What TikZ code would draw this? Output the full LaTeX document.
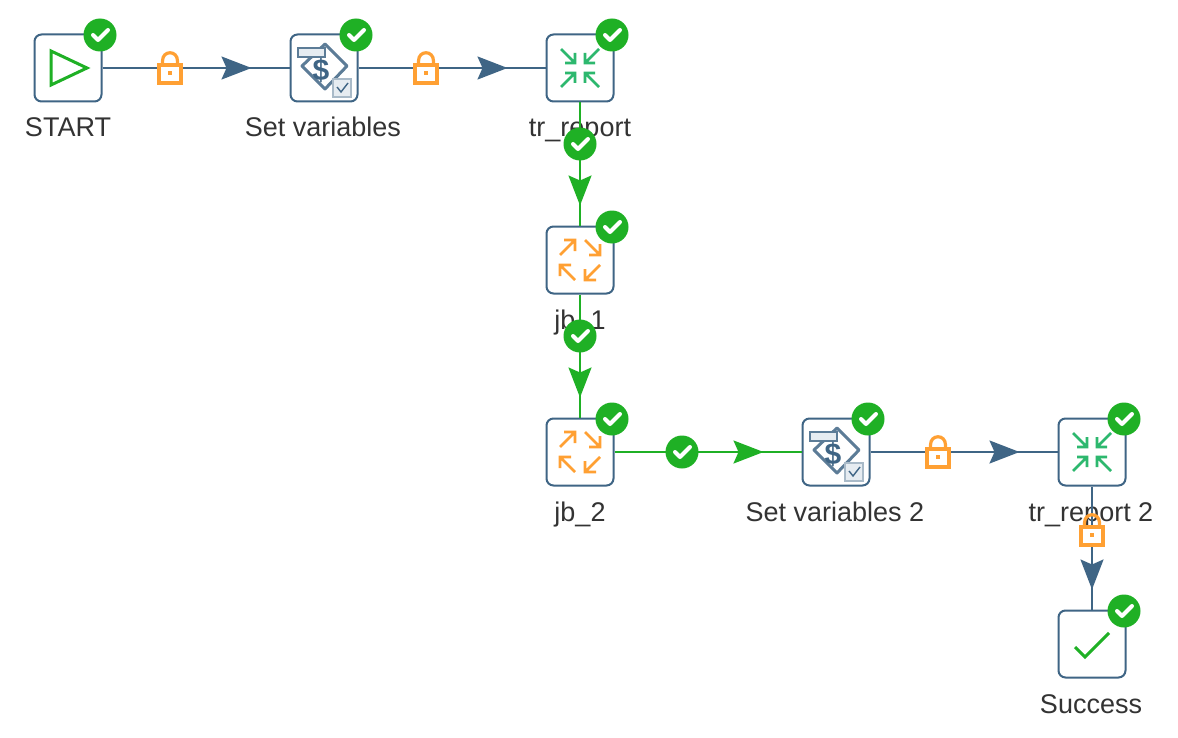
\documentclass[tikz,border=0pt]{standalone}
\usepackage{fontspec}
\setmainfont{Liberation Sans}
\usetikzlibrary{arrows.meta,decorations.markings}
\definecolor{steelline}{HTML}{3F6585}
\definecolor{okgreen}{HTML}{1FB025}
\definecolor{iconteal}{HTML}{2DB86E}
\definecolor{lockorange}{HTML}{FFA033}
\definecolor{labelgray}{HTML}{333333}
\definecolor{tagfill}{HTML}{E6ECF1}
\tikzset{
	entrybox/.style={draw=steelline,fill=white,line width=1pt,rounded corners=3.5pt,minimum size=33.5pt,inner sep=0pt},
	entrylabel/.style={text=labelgray,font=\fontsize{13.5}{16}\selectfont,inner sep=0pt,anchor=base},
	okbadge/.style={circle,fill=okgreen,minimum size=16.5pt,inner sep=0pt,
		path picture={\draw[white,line width=2pt,line cap=round,line join=round]
			([shift={(-7,0)}]path picture bounding box.center) -- ([shift={(-2,5)}]path picture bounding box.center) -- ([shift={(8,-5)}]path picture bounding box.center);}},
	flowtip/.style={postaction={decorate},decoration={markings,mark=at position #1 with {\arrow{Stealth[length=15pt,width=11.5pt,inset=2.5pt]}}}},
	lockflow/.style={draw=steelline,line width=1pt,flowtip=#1},
	okflow/.style={draw=okgreen,line width=1pt,flowtip=#1},
	arrowstroke/.style={line width=1.3pt,line join=miter},
	playicon/.pic={\draw[okgreen,line width=1.5pt,line join=miter] (-17,-17) -- (-17,17) -- (19,0) -- cycle;},
	doneicon/.pic={\draw[okgreen,line width=1.5pt] (-17,3) -- (-7,13) -- (17,-11);},
	compressicon/.pic={\foreach \turn in {0,90,180,270}
		\draw[iconteal,arrowstroke,rotate=\turn] (-19,-19) -- (-5,-5) (-15,-5) -- (-5,-5) -- (-5,-15);},
	expandicon/.pic={\foreach \turn in {0,90,180,270}
		\draw[lockorange,arrowstroke,rotate=\turn] (-20,-5) -- (-5,-20) (-16,-20) -- (-5,-20) -- (-5,-9);},
	variableicon/.pic={
		\draw[steelline!85,line width=1.5pt,line join=round,fill=white] (1,-24) -- (23,-2) -- (1,21) -- (-22,-2) -- cycle;
		\draw[steelline!85,line width=1.3pt,fill=tagfill] (-26,-20) rectangle (1,-11);
		\node[text=steelline,inner sep=0pt,font=\fontsize{15}{15}\selectfont\bfseries] (-dollar) at (-3,2) {\$};
		\draw[steelline!45,line width=1.3pt,fill=tagfill] (9,11) rectangle (27,29);
		\draw[steelline,line width=.7pt] (13,19) -- (17,24) -- (24,15);},
	lockmark/.pic={
		\draw[lockorange,line width=1.6pt] (-7.5,-3) -- (-7.5,-7) .. controls (-7.5,-18) and (7.5,-18) .. (7.5,-7) -- (7.5,-3);
		\draw[lockorange,line width=1.6pt,fill=white] (-11,-3) rectangle (11,15);
		\fill[lockorange] (-2,3) rectangle (2,7);},
}

\begin{document}
\begin{tikzpicture}[x=.5pt,y=-.5pt]
	\useasboundingbox[fill=white] (0,0) rectangle (1178,738);
	% entries
	\node[entrybox] (start) at (68,68) {};
	\node[entrybox] (setvars) at (324,68) {};
	\node[entrybox] (trreport) at (580,68) {};
	\node[entrybox] (jbone) at (580,260) {};
	\node[entrybox] (jbtwo) at (580,452) {};
	\node[entrybox] (setvarstwo) at (836,452) {};
	\node[entrybox] (trreporttwo) at (1092,452) {};
	\node[entrybox] (success) at (1092,644) {};
	% names under the entries
	\node[entrylabel] (startname) at (68,137) {START};
	\node[entrylabel] (setvarsname) at (323,137) {Set variables};
	\node[entrylabel] (trreportname) at (580,137) {tr\_report};
	\node[entrylabel] (jbonename) at (580,329) {jb\_1};
	\node[entrylabel] (jbtwoname) at (580,521) {jb\_2};
	\node[entrylabel] (setvarstwoname) at (835,521) {Set variables 2};
	\node[entrylabel] (trreporttwoname) at (1091,521) {tr\_report 2};
	\node[entrylabel] (successname) at (1091,713) {Success};
	% hops
	\draw[lockflow=-19pt] (start) -- (setvars);
	\draw[lockflow=-19pt] (setvars) -- (trreport);
	\draw[okflow=-10pt] (trreport) -- (jbone);
	\draw[okflow=-10pt] (jbone) -- (jbtwo);
	\draw[okflow=-19pt] (jbtwo) -- (setvarstwo);
	\draw[lockflow=-19pt] (setvarstwo) -- (trreporttwo);
	\draw[lockflow=-10pt] (trreporttwo) -- (success);
	% hop marks
	\pic (lockone) at (170,68) {lockmark};
	\pic (locktwo) at (426,68) {lockmark};
	\node[okbadge] (hopone) at (580,144) {};
	\node[okbadge] (hoptwo) at (580,336) {};
	\node[okbadge] (hopthree) at (682,452) {};
	\pic (lockthree) at (938,452) {lockmark};
	\pic (lockfour) at (1092,530) {lockmark};
	% icons
	\pic (starticon) at (68,68) {playicon};
	\pic (setvarsicon) at (324,68) {variableicon};
	\pic (trreporticon) at (580,68) {compressicon};
	\pic (jboneicon) at (580,260) {expandicon};
	\pic (jbtwoicon) at (580,452) {expandicon};
	\pic (setvarstwoicon) at (836,452) {variableicon};
	\pic (trreporttwoicon) at (1092,452) {compressicon};
	\pic (successicon) at (1092,644) {doneicon};
	% result badges
	\node[okbadge] (startok) at (100,35) {};
	\node[okbadge] (setvarsok) at (356,35) {};
	\node[okbadge] (trreportok) at (612,35) {};
	\node[okbadge] (jboneok) at (612,227) {};
	\node[okbadge] (jbtwook) at (612,419) {};
	\node[okbadge] (setvarstwook) at (868,419) {};
	\node[okbadge] (trreporttwook) at (1124,419) {};
	\node[okbadge] (successok) at (1124,611) {};
\end{tikzpicture}
\end{document}
